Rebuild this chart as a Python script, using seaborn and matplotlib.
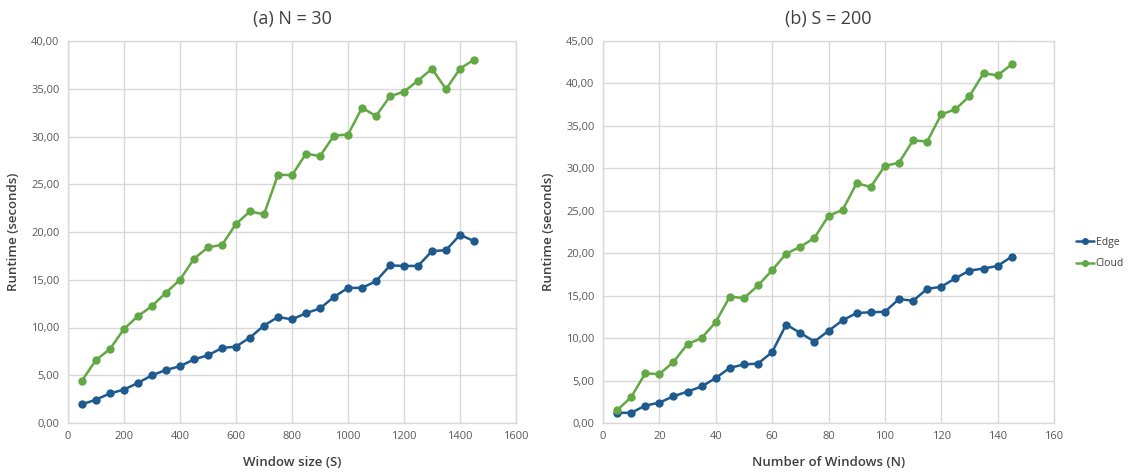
import numpy as np
import pandas as pd
import matplotlib
matplotlib.use("Agg")
import matplotlib.pyplot as plt
import seaborn as sns
from matplotlib.ticker import FuncFormatter, MultipleLocator
from matplotlib.lines import Line2D

# ---- data ----
window_sizes = [50, 100, 150, 200, 250, 300, 350, 400, 450, 500, 550, 600, 650, 700,
                750, 800, 850, 900, 950, 1000, 1050, 1100, 1150, 1200, 1250, 1300,
                1350, 1400, 1450]
edge_a = [1.95, 2.45, 3.1, 3.5, 4.2, 5.0, 5.55, 5.95, 6.65, 7.1, 7.85, 8.0, 8.95,
          10.2, 11.1, 10.85, 11.5, 12.0, 13.2, 14.15, 14.15, 14.85, 16.5, 16.45,
          16.45, 18.0, 18.1, 19.7, 19.05]
cloud_a = [4.45, 6.6, 7.75, 9.85, 11.2, 12.25, 13.65, 15.0, 17.2, 18.4, 18.65, 20.85,
           22.15, 21.85, 26.0, 25.95, 28.2, 27.95, 30.1, 30.2, 33.0, 32.15, 34.2,
           34.7, 35.85, 37.1, 34.95, 37.1, 38.05]

num_windows = [5, 10, 15, 20, 25, 30, 35, 40, 45, 50, 55, 60, 65, 70, 75, 80, 85, 90,
               95, 100, 105, 110, 115, 120, 125, 130, 135, 140, 145]
edge_b = [1.2, 1.2, 2.05, 2.4, 3.15, 3.7, 4.3, 5.3, 6.5, 6.9, 7.0, 8.35, 11.6, 10.6,
          9.6, 10.85, 12.1, 12.95, 13.05, 13.1, 14.6, 14.4, 15.8, 16.05, 17.05, 17.95,
          18.2, 18.5, 19.6]
cloud_b = [1.5, 3.05, 5.85, 5.75, 7.2, 9.3, 10.0, 11.9, 14.9, 14.7, 16.2, 18.0, 19.95,
           20.75, 21.8, 24.4, 25.1, 28.25, 27.8, 30.3, 30.65, 33.3, 33.15, 36.35,
           36.95, 38.5, 41.2, 40.95, 42.25]

series_names = ["Edge", "Cloud"]
titles = ["(a) N = 30", "(b) S = 200"]
xlabels = ["Window size (S)", "Number of Windows (N)"]
ylabel = "Runtime (seconds)"

df_a = pd.DataFrame({"x": window_sizes * 2,
                     "y": edge_a + cloud_a,
                     "series": ["Edge"] * len(edge_a) + ["Cloud"] * len(cloud_a)})
df_b = pd.DataFrame({"x": num_windows * 2,
                     "y": edge_b + cloud_b,
                     "series": ["Edge"] * len(edge_b) + ["Cloud"] * len(cloud_b)})

palette = {"Edge": "#1f5a8e", "Cloud": "#62a845"}

sns.set_style("white")
plt.rcParams["font.family"] = ["Open Sans", "DejaVu Sans"]

fig = plt.figure(figsize=(11.4, 4.75), dpi=100)
W, H = 1140, 475
ax1 = fig.add_axes([68 / W, 1 - 423 / H, (516 - 68) / W, (423 - 41) / H])
ax2 = fig.add_axes([603 / W, 1 - 423 / H, (1054 - 603) / W, (423 - 41) / H])

fmt = FuncFormatter(lambda v, p: f"{v:.2f}".replace(".", ","))
grid_c = "#d9d9d9"
tick_c = "#595959"

configs = [
    (ax1, df_a, (0, 1600), 200, (0, 40), titles[0], xlabels[0]),
    (ax2, df_b, (0, 160), 20, (0, 45), titles[1], xlabels[1]),
]
for ax, df, xl, xstep, yl, title, xlab in configs:
    sns.lineplot(data=df, x="x", y="y", hue="series", hue_order=series_names,
                 palette=palette, marker="o", markersize=6, markeredgewidth=0,
                 linewidth=1.8, ax=ax, legend=False)
    ax.set_xlim(*xl)
    ax.set_ylim(*yl)
    ax.xaxis.set_major_locator(MultipleLocator(xstep))
    ax.yaxis.set_major_locator(MultipleLocator(5))
    ax.yaxis.set_major_formatter(fmt)
    ax.grid(True, color=grid_c, linewidth=1)
    ax.set_axisbelow(True)
    for s in ax.spines.values():
        s.set_color(grid_c)
        s.set_linewidth(1)
    ax.tick_params(axis="both", length=0, labelsize=8, colors=tick_c, pad=6)
    ax.set_title(title, fontsize=13, color="#404040", pad=12)
    ax.set_xlabel(xlab, fontsize=9.5, color="#404040", fontweight="semibold", labelpad=10)
    ax.set_ylabel(ylabel, fontsize=9.5, color="#404040", fontweight="semibold", labelpad=8)

handles = [Line2D([0], [0], color=palette[n], marker="o", markersize=5,
                  markeredgewidth=0, linewidth=1.8) for n in series_names]
fig.legend(handles, series_names, loc="upper left",
           bbox_to_anchor=(1076 / W, 1 - 237 / H), frameon=False, fontsize=7.5,
           handlelength=1.7, handletextpad=0.2, labelspacing=1.0,
           borderaxespad=0, borderpad=0, labelcolor="#404040")

fig.savefig("out.png", dpi=100)
